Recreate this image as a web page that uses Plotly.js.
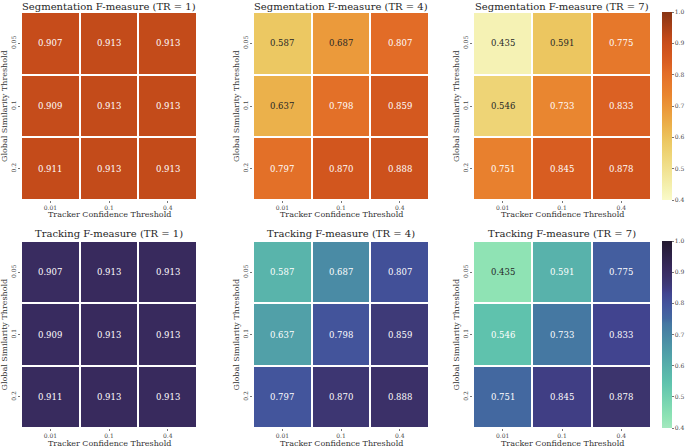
<!DOCTYPE html>
<html><head><meta charset="utf-8">
<script src="https://cdn.plot.ly/plotly-3.0.1.min.js"></script>
<style>html,body{margin:0;padding:0;background:#fff}#chart{width:685px;height:447px}</style>
</head><body><div id="chart"></div>
<script>
// ---- data ----
const trackerConf = ['0.01', '0.1', '0.4'];      // x categories
const globalSim = ['0.05', '0.1', '0.2'];        // y categories (top to bottom)
const trValues = [1, 4, 7];
const rowNames = ['Segmentation F-measure', 'Tracking F-measure'];
const xTitle = 'Tracker Confidence Threshold';
const yTitle = 'Global Similarity Threshold';
const segTR1 = [[0.907, 0.913, 0.913], [0.909, 0.913, 0.913], [0.911, 0.913, 0.913]];
const segTR4 = [[0.587, 0.687, 0.807], [0.637, 0.798, 0.859], [0.797, 0.870, 0.888]];
const segTR7 = [[0.435, 0.591, 0.775], [0.546, 0.733, 0.833], [0.751, 0.845, 0.878]];
const trkTR1 = [[0.907, 0.913, 0.913], [0.909, 0.913, 0.913], [0.911, 0.913, 0.913]];
const trkTR4 = [[0.587, 0.687, 0.807], [0.637, 0.798, 0.859], [0.797, 0.870, 0.888]];
const trkTR7 = [[0.435, 0.591, 0.775], [0.546, 0.733, 0.833], [0.751, 0.845, 0.878]];
const cbTicks = [0.4, 0.5, 0.6, 0.7, 0.8, 0.9, 1.0];

// ---- style ----
const zMin = 0.4, zMax = 1.0;
const scaleTop = [[0, '#fafac9'], [0.06, '#f5f2b3'], [0.24, '#eed577'], [0.31, '#ecc862'], [0.4, '#ebb04a'],
  [0.48, '#eb9a3b'], [0.56, '#e9852f'], [0.63, '#e6772b'], [0.68, '#e26c27'], [0.73, '#da5f22'],
  [0.78, '#d2561e'], [0.82, '#cc501c'], [0.86, '#c24a1a'], [1, '#873414']];
const scaleBot = [[0, '#a4e8bf'], [0.06, '#8ee3b4'], [0.24, '#5fc3ad'], [0.31, '#59b4ab'], [0.4, '#509fa8'],
  [0.48, '#4a8ba5'], [0.56, '#4577a2'], [0.585, '#4368a0'], [0.625, '#445e9f'], [0.66, '#43559c'],
  [0.72, '#414590'], [0.74, '#403e85'], [0.765, '#3e3a78'], [0.81, '#3b3169'], [0.855, '#382a5d'], [1, '#231a30']];
const darkTextBelow = [0.7, 0.5];
const serif = 'DejaVu Serif';
const W = 685, H = 447;
const colPx = [[21, 197], [253, 429], [473, 651]];
const rowPx = [[12, 200], [241, 428]];
const cbX = 662;

const dataRows = [[segTR1, segTR4, segTR7], [trkTR1, trkTR4, trkTR7]];
const scales = [scaleTop, scaleBot];

const traces = [];
const annotations = [];
const layout = {
  width: W, height: H,
  margin: {l: 0, r: 0, t: 0, b: 0, pad: 0, autoexpand: false},
  paper_bgcolor: '#fff', plot_bgcolor: '#fff',
  font: {family: serif, color: '#262626'},
  showlegend: false,
  annotations: annotations
};

let n = 0;
for (let r = 0; r < 2; r++) {
  for (let c = 0; c < 3; c++) {
    n++;
    const ax = n === 1 ? '' : String(n);
    const z = dataRows[r][c];
    const tr = {
      type: 'heatmap', x: trackerConf, y: globalSim, z: z,
      xaxis: 'x' + ax, yaxis: 'y' + ax,
      colorscale: scales[r], zmin: zMin, zmax: zMax,
      xgap: 2, ygap: 2, hoverinfo: 'z',
      showscale: c === 2
    };
    if (c === 2) {
      tr.colorbar = {
        x: cbX / W, xanchor: 'left', xpad: 0, ypad: 0,
        y: 1 - rowPx[r][0] / H, yanchor: 'top',
        len: (rowPx[r][1] - rowPx[r][0]) / H, lenmode: 'fraction',
        thickness: 10, outlinewidth: 0,
        tickvals: cbTicks, ticktext: cbTicks.map(v => v.toFixed(1)),
        ticks: 'outside', ticklen: 2, tickcolor: '#555', tickwidth: 0.8,
        tickfont: {family: serif, size: 6, color: '#444'}
      };
    }
    traces.push(tr);
    layout['xaxis' + ax] = {
      domain: [colPx[c][0] / W, colPx[c][1] / W], anchor: 'y' + ax,
      type: 'category', showgrid: false, zeroline: false, showline: false,
      ticks: 'outside', ticklen: 2, tickwidth: 0.8, tickcolor: '#555',
      tickfont: {family: serif, size: 6, color: '#444'},
      fixedrange: true
    };
    layout['yaxis' + ax] = {
      domain: [1 - rowPx[r][1] / H, 1 - rowPx[r][0] / H], anchor: 'x' + ax,
      type: 'category', autorange: 'reversed', showgrid: false, zeroline: false, showline: false,
      ticks: 'outside', ticklen: 2, tickwidth: 0.8, tickcolor: '#555', tickangle: -90,
      tickfont: {family: serif, size: 6, color: '#444'},
      fixedrange: true
    };
    // subplot title
    annotations.push({
      xref: 'paper', yref: 'paper',
      x: (colPx[c][0] + colPx[c][1]) / 2 / W, y: 1 - 6.5 / H,
      xanchor: 'center', yanchor: 'middle', showarrow: false,
      text: rowNames[r] + ' (TR = ' + trValues[c] + ')',
      font: {family: serif, size: 10, color: '#262626'}
    });
    if (r === 1) annotations[annotations.length - 1].y = 1 - (rowPx[1][0] - 7.5) / H;
    // axis titles
    annotations.push({
      xref: 'paper', yref: 'paper',
      x: (colPx[c][0] + colPx[c][1]) / 2 / W, y: 1 - (rowPx[r][1] + 15) / H,
      xanchor: 'center', yanchor: 'middle', showarrow: false,
      text: xTitle, font: {family: serif, size: 8, color: '#333'}
    });
    annotations.push({
      xref: 'paper', yref: 'paper',
      x: (colPx[c][0] - 17) / W, y: 1 - (rowPx[r][0] + rowPx[r][1]) / 2 / H,
      xanchor: 'center', yanchor: 'middle', showarrow: false, textangle: -90,
      text: yTitle, font: {family: serif, size: 8, color: '#333'}
    });
    // cell values
    for (let i = 0; i < globalSim.length; i++) {
      for (let j = 0; j < trackerConf.length; j++) {
        const v = z[i][j];
        annotations.push({
          xref: 'x' + ax, yref: 'y' + ax, x: j, y: i,
          text: v.toFixed(3), showarrow: false,
          font: {family: serif, size: 8.5, color: v < darkTextBelow[r] ? '#262626' : '#ffffff'}
        });
      }
    }
  }
}

Plotly.newPlot('chart', traces, layout, {displayModeBar: false, staticPlot: true});
</script>
</body></html>
